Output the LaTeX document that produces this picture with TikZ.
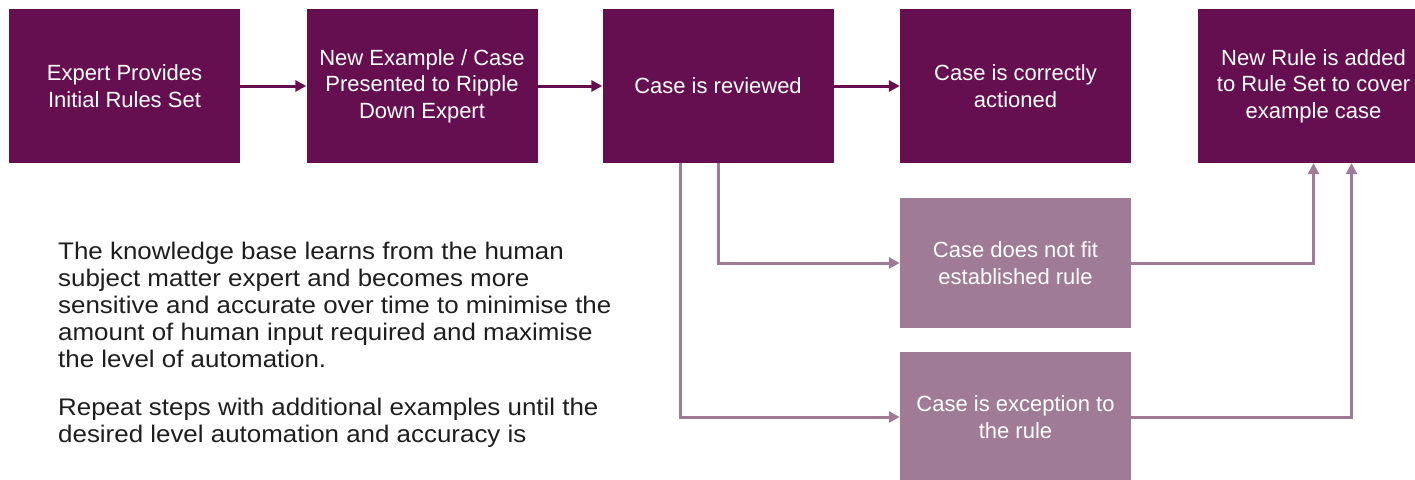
\documentclass[tikz,border=0pt]{standalone}
\usepackage{fontspec}
\setmainfont{Liberation Sans}
\newfontfamily\notefont{Liberation Sans}[FakeStretch=1.08]
\usetikzlibrary{arrows.meta,positioning}
\definecolor{rdark}{HTML}{650F50}
\definecolor{rlight}{HTML}{A07B95}
\definecolor{rtext}{HTML}{1E1E1E}

\begin{document}
\begin{tikzpicture}[x=1pt,y=-1pt,>={Triangle[length=11pt,width=11pt]}]
  \tikzset{
    darkbox/.style={fill=rdark,text=white,minimum width=231pt,minimum height=154pt,
      align=center,inner sep=0pt,font=\fontsize{22}{26.5}\selectfont},
    lightbox/.style={darkbox,fill=rlight,minimum height=130pt},
    darkarrow/.style={rdark,line width=3pt,->},
    lightarrow/.style={rlight,line width=3pt,->},
    note/.style={anchor=north west,align=left,inner sep=0pt,text=rtext,
      font=\notefont\fontsize{24}{27}\selectfont}
  }
  \useasboundingbox[fill=white] (0,0) rectangle (1415,479);

  % top row
  \node[darkbox] (expert) at (124.5,86) {Expert Provides\\Initial Rules Set};
  \node[darkbox] (newcase) at (422,86) {New Example / Case\\Presented to Ripple\\Down Expert};
  \node[darkbox] (review) at (718,86) {Case is reviewed};
  \node[darkbox] (actioned) at (1015.5,86) {Case is correctly\\actioned};
  \node[darkbox] (newrule) at (1313.5,86) {New Rule is added\\to Rule Set to cover\\example case};

  % branches
  \node[lightbox] (nofit) at (1015.5,263) {Case does not fit\\established rule};
  \node[lightbox] (exception) at (1015.5,417) {Case is exception to\\the rule};

  % arrows
  \draw[darkarrow] (expert) -- (newcase);
  \draw[darkarrow] (newcase) -- (review);
  \draw[darkarrow] (review) -- (actioned);
  \draw[lightarrow] (review.south) |- (nofit);
  \draw[lightarrow] ([xshift=-38pt]review.south) |- (exception);
  \draw[lightarrow] (nofit) -| (newrule.south);
  \draw[lightarrow] (exception) -| ([xshift=38pt]newrule.south);

  % notes
  \node[note] (learns) at (58,242) {The knowledge base learns from the human\\
    subject matter expert and becomes more\\
    sensitive and accurate over time to minimise the\\
    amount of human input required and maximise\\
    the level of automation.};
  \node[note,below=30pt of learns.south west,anchor=north west] (repeat)
    {Repeat steps with additional examples until the\\
    desired level automation and accuracy is};
\end{tikzpicture}
\end{document}
